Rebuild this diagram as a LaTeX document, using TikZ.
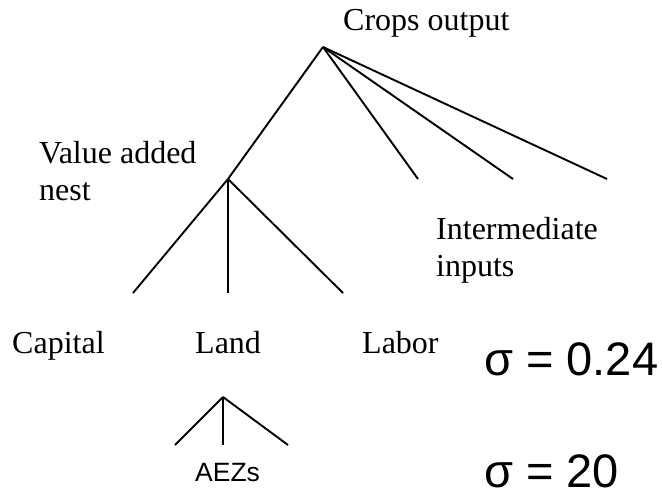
\documentclass[tikz,border=0pt]{standalone}
\usepackage{fontspec}
\setmainfont{Liberation Serif}
\newfontfamily\arialfont{Liberation Sans}
\usetikzlibrary{positioning}

\tikzset{
  branch/.style={line width=1.9pt, line cap=butt},
  label/.style={inner sep=0pt, anchor=base west, align=left,
    font=\fontsize{32}{37}\selectfont},
  sigma/.style={inner sep=0pt, anchor=base west, text depth=0pt,
    font=\arialfont\fontsize{47}{52}\selectfont},
}

\begin{document}
\begin{tikzpicture}[x=1pt,y=-1pt]
\useasboundingbox (0,0) rectangle (662,491);

% tree points
\coordinate (top) at (323,47);
\coordinate (va) at (228,179);
\coordinate (int1) at (418,179);
\coordinate (int2) at (513,179);
\coordinate (int3) at (607,179);
\coordinate (cap) at (133,293);
\coordinate (lnd) at (228,293);
\coordinate (lab) at (343,293);
\coordinate (aez) at (223,397);
\coordinate (aez1) at (175,445);
\coordinate (aez2) at (223,445);
\coordinate (aez3) at (288,445);

% crops output nest
\draw[branch] (top) -- (va);
\draw[branch] (top) -- (int1);
\draw[branch] (top) -- (int2);
\draw[branch] (top) -- (int3);

% value added nest
\draw[branch] (va) -- (cap);
\draw[branch] (va) -- (lnd);
\draw[branch] (va) -- (lab);

% land nest
\draw[branch] (aez) -- (aez1);
\draw[branch] (aez) -- (aez2);
\draw[branch] (aez) -- (aez3);

% labels (base = last line)
\node[label] (crops) at (343,30) {Crops output};
\node[label] (valadd) at (39,200) {Value added\\nest};
\node[label] (inter) at (436,276) {Intermediate\\inputs};
\node[label] (capital) at (12,353) {Capital};
\node[label] (land) at (195,353) {Land};
\node[label] (labor) at (362,353) {Labor};
\node[inner sep=0pt, anchor=base west, font=\arialfont\fontsize{26.5}{30}\selectfont]
  (aezs) at (195,481) {AEZs};

\node[sigma] (sig1) at (484,375) {σ = 0.24};
\node[sigma] (sig2) at (484,487) {σ = 20};
\end{tikzpicture}
\end{document}
